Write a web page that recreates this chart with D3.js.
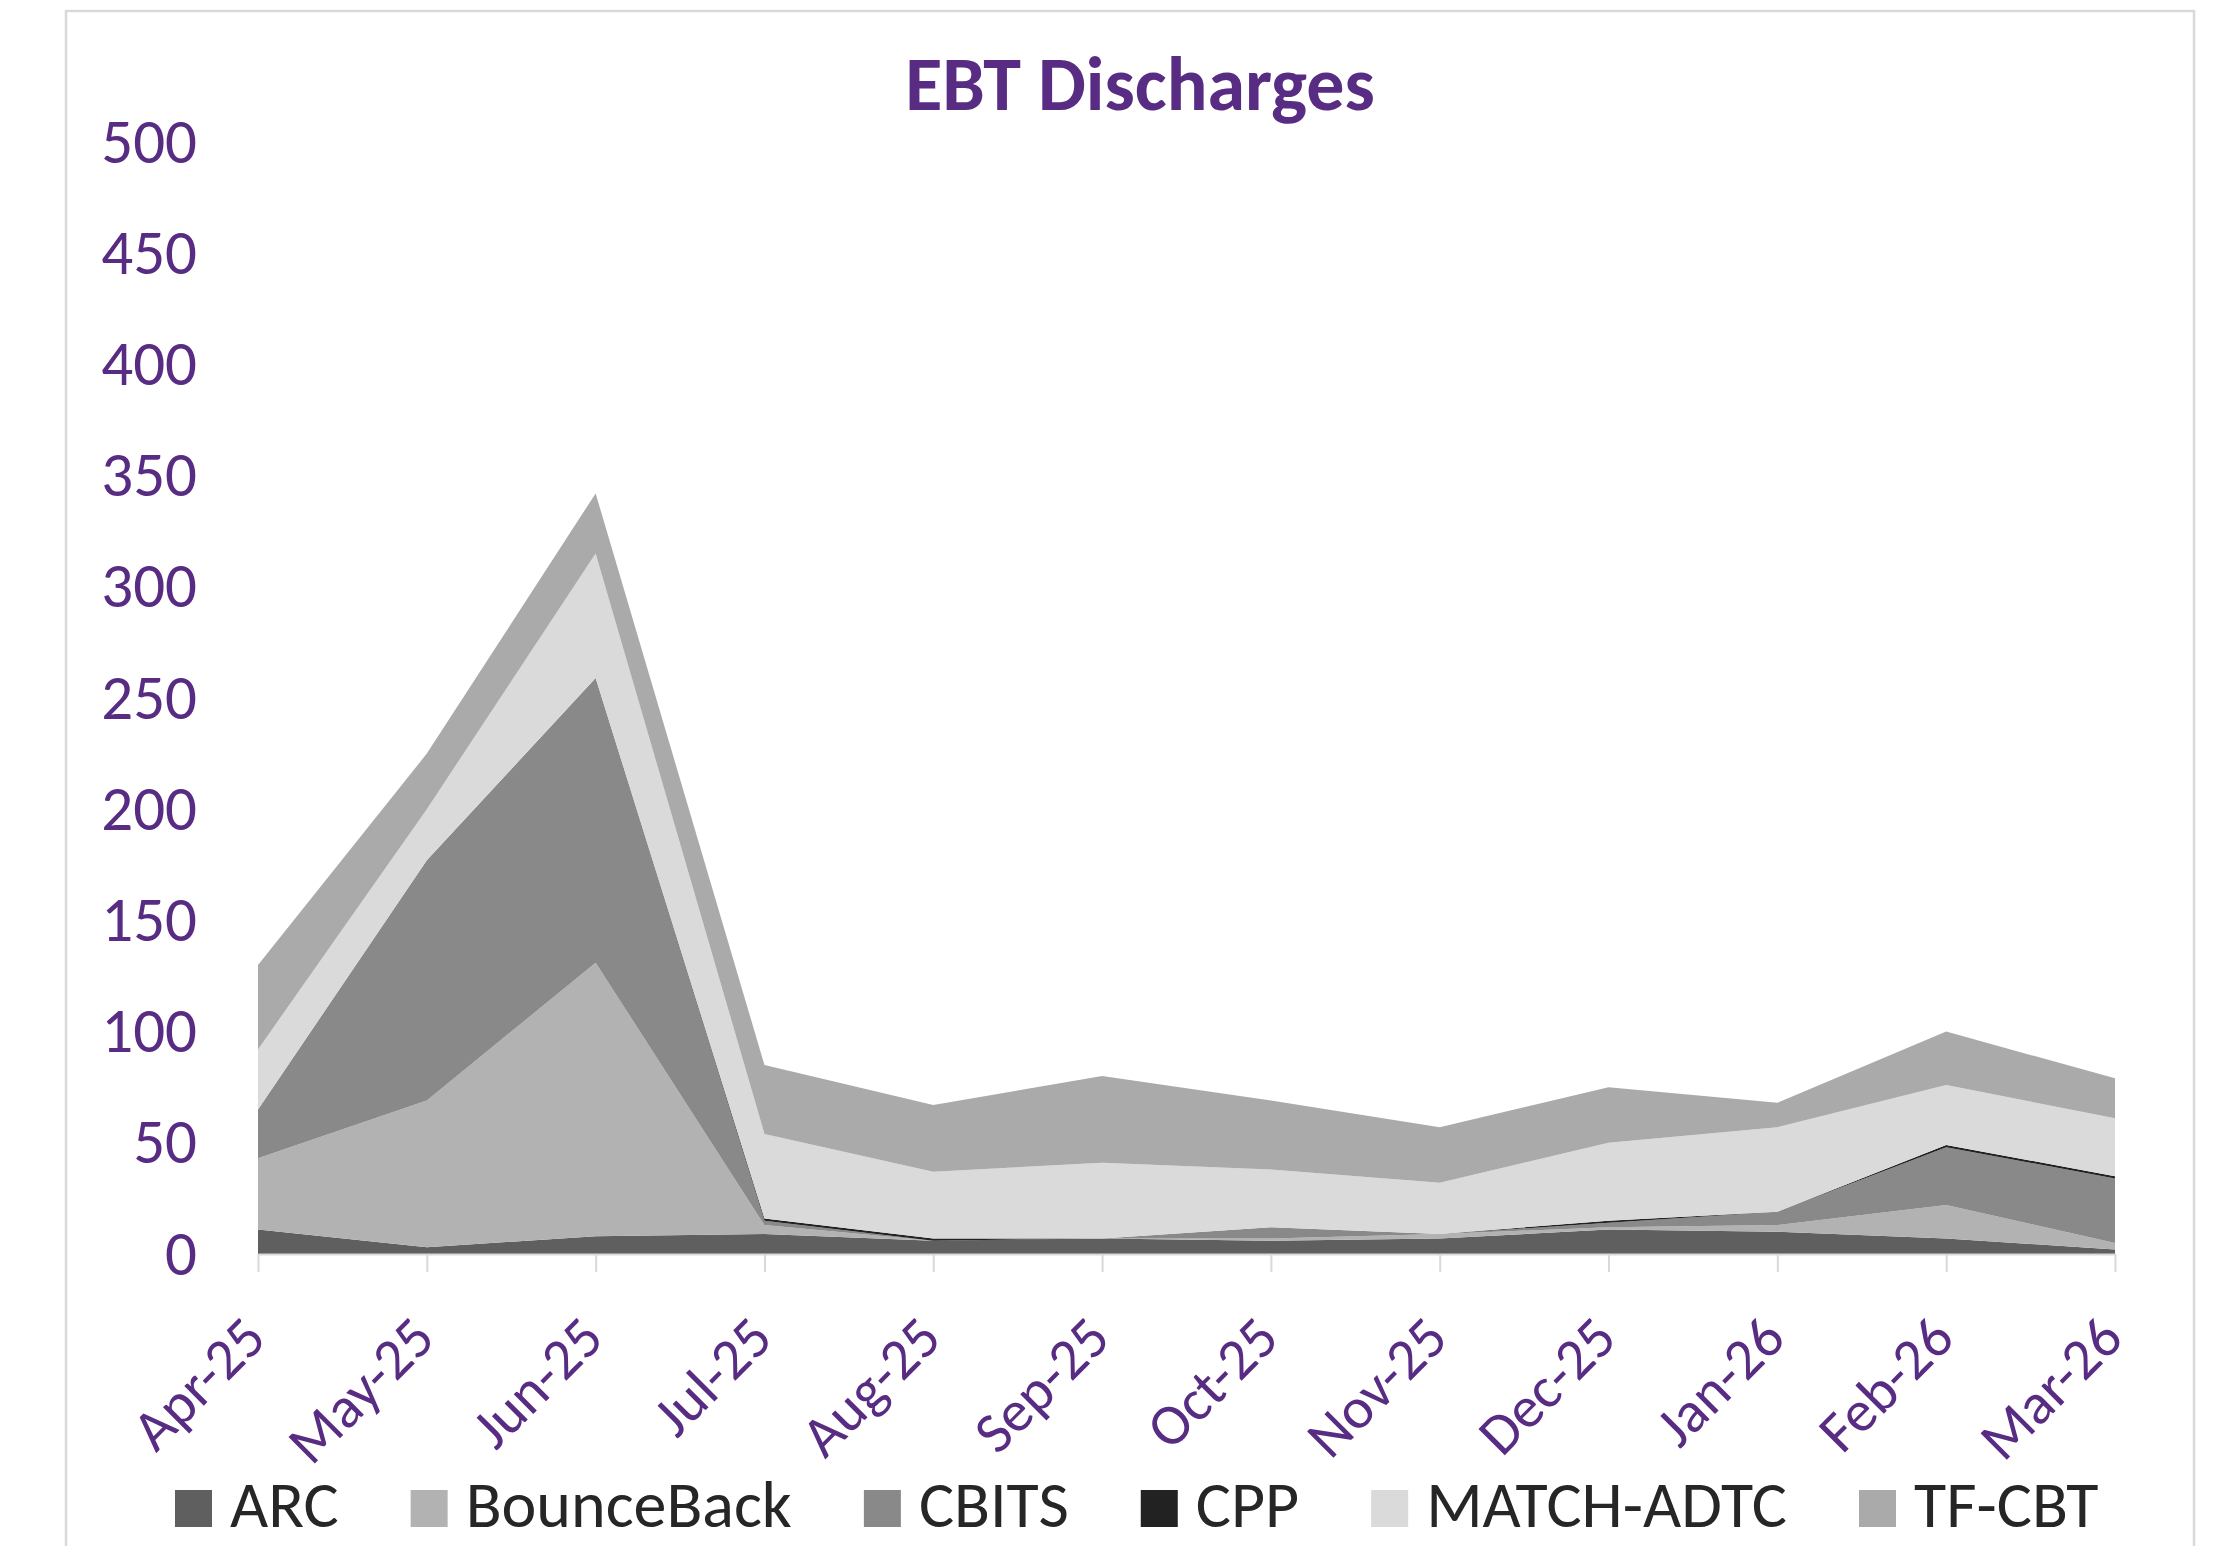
<!DOCTYPE html>
<html>
<head>
<meta charset="utf-8">
<script src="https://cdn.jsdelivr.net/npm/d3@7"></script>
<style>
  html, body { margin: 0; padding: 0; background: #ffffff; }
  svg { display: block; }
  text { font-family: Carlito, Calibri, Lato, "Open Sans", sans-serif; }
</style>
</head>
<body>
<svg id="chart" width="2225" height="1546"></svg>
<script>
// ---- Data ----
const months = ["Apr-25","May-25","Jun-25","Jul-25","Aug-25","Sep-25","Oct-25","Nov-25","Dec-25","Jan-26","Feb-26","Mar-26"];
const seriesNames = ["ARC","BounceBack","CBITS","CPP","MATCH-ADTC","TF-CBT"];
const arc        = [11,  3,   8,  9, 6, 7, 6, 7, 11, 10,  7,  2];
const bounceBack = [32, 66, 123,  4, 0, 0, 1, 2,  1,  3, 15,  3];
const cbits      = [22,108, 128,  2, 0, 0, 5, 0,  2,  6, 26, 29];
const cpp        = [ 0,  0,   0,  1, 1, 0, 0, 0,  1,  0,  1,  1];
const matchAdtc  = [27, 23,  56, 38,30,34,26,23, 35, 38, 27, 26];
const tfCbt      = [38, 25,  27, 31,30,39,31,25, 25, 11, 24, 18];
const yTicks = [0,50,100,150,200,250,300,350,400,450,500];
const titleText = "EBT Discharges";

// ---- Styles ----
const colors = ["#5f5f5f","#b2b2b2","#898989","#222222","#dadada","#aaaaaa"];
const purple = "#582c83";

const svg = d3.select("#chart");

// chart border
svg.append("rect").attr("x", 66).attr("y", 11).attr("width", 2128).attr("height", 1600)
  .attr("fill", "#ffffff").attr("stroke", "#d9d9d9").attr("stroke-width", 2.5);

const x = d3.scalePoint().domain(months).range([258, 2115]);
const y = d3.scaleLinear().domain([0, 500]).range([1254, 142]);

const table = months.map((m, i) => ({
  month: m,
  "ARC": arc[i], "BounceBack": bounceBack[i], "CBITS": cbits[i],
  "CPP": cpp[i], "MATCH-ADTC": matchAdtc[i], "TF-CBT": tfCbt[i]
}));
const stacked = d3.stack().keys(seriesNames)(table);

const area = d3.area()
  .x(d => x(d.data.month))
  .y0(d => y(d[0]))
  .y1(d => y(d[1]));

svg.append("g").selectAll("path").data(stacked).join("path")
  .attr("d", area)
  .attr("fill", (d, i) => colors[i])
  .attr("stroke", "none");

// x axis
const xAxis = svg.append("g").attr("transform", "translate(0,1254)")
  .call(d3.axisBottom(x).tickSize(18).tickSizeOuter(0));
xAxis.select(".domain").attr("stroke", "#d9d9d9").attr("stroke-width", 2);
xAxis.selectAll(".tick line").attr("stroke", "#d9d9d9").attr("stroke-width", 2);
xAxis.selectAll(".tick text")
  .attr("x", null).attr("y", null).attr("dy", null)
  .attr("transform", "translate(10,87) rotate(-45)")
  .attr("text-anchor", "end")
  .attr("fill", purple)
  .style("font-size", "58px")
  .style("font-family", "Carlito, Calibri, Lato, sans-serif");

// y axis
const yAxis = svg.append("g").attr("transform", "translate(258,0)")
  .call(d3.axisLeft(y).tickValues(yTicks).tickSize(0).tickPadding(61));
yAxis.select(".domain").remove();
yAxis.selectAll(".tick text")
  .attr("fill", purple)
  .style("font-size", "63px")
  .style("font-family", "Carlito, Calibri, Lato, sans-serif");

// title
svg.append("text").attr("x", 1140).attr("y", 110)
  .attr("text-anchor", "middle")
  .attr("fill", purple)
  .style("font-size", "76px").style("font-weight", "bold")
  .text(titleText);

// legend
const lg = svg.append("g");
const items = lg.selectAll("g").data(seriesNames).join("g");
items.append("rect").attr("width", 37).attr("height", 37).attr("y", -37)
  .attr("fill", (d, i) => colors[i]);
items.append("text").attr("x", 55).attr("y", 0)
  .attr("fill", "#262626").style("font-size", "66px")
  .text(d => d);
let cx = 0;
const offsets = [];
items.each(function() {
  offsets.push(cx);
  const tw = d3.select(this).select("text").node().getComputedTextLength();
  cx += 55 + tw + 72;
});
const startX = 175;
items.attr("transform", (d, i) => `translate(${startX + offsets[i]},1527)`);
</script>
</body>
</html>
